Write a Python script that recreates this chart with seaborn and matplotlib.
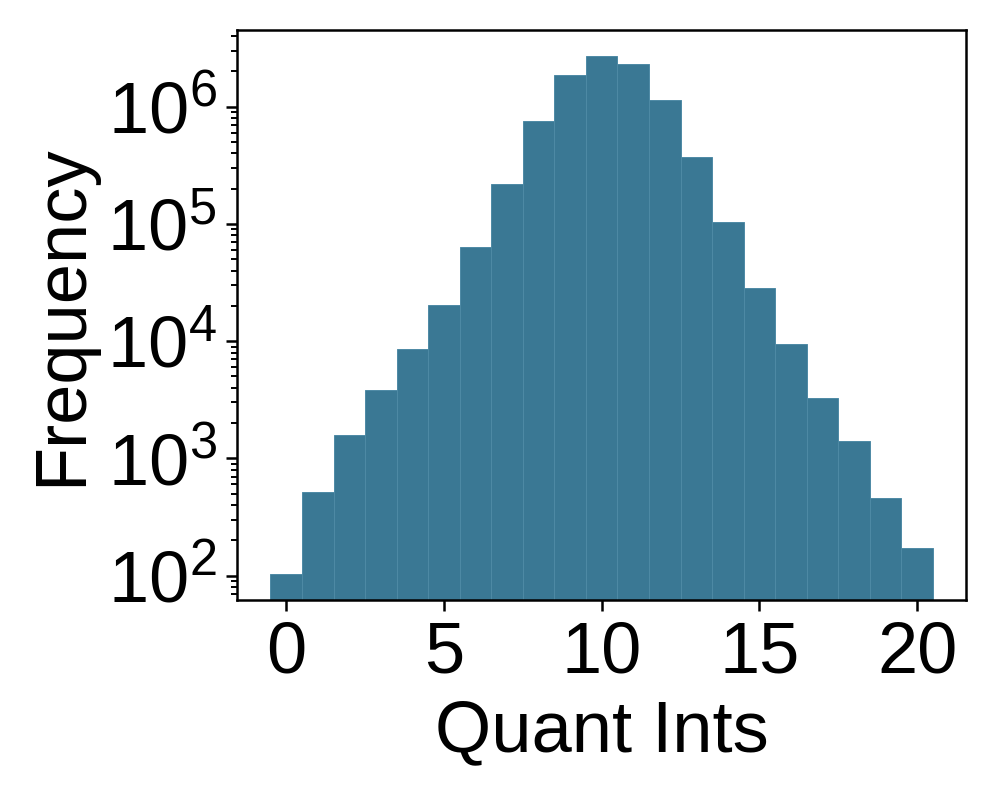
import numpy as np
import pandas as pd
import matplotlib
matplotlib.use("Agg")
import matplotlib.pyplot as plt
import matplotlib.ticker as mticker
import seaborn as sns

# Data (integer bins 0..20, log-scale counts)
quant_ints = list(range(21))
frequency = [103, 521, 1589, 3855, 8610, 20370, 63200, 219800, 758000, 1854000,
             2690000, 2300000, 1133000, 373000, 104700, 28200, 9480, 3280, 1403, 464, 172]
x_ticks = [0, 5, 10, 15, 20]

sns.set_theme(style="ticks")
plt.rcParams["font.family"] = ["Liberation Sans", "DejaVu Sans"]
plt.rcParams["mathtext.fontset"] = "custom"
plt.rcParams["mathtext.rm"] = "Liberation Sans"
plt.rcParams["mathtext.it"] = "Liberation Sans"
plt.rcParams["mathtext.bf"] = "Liberation Sans"
plt.rcParams["text.color"] = "black"
plt.rcParams["axes.labelcolor"] = "black"
plt.rcParams["xtick.color"] = "black"
plt.rcParams["ytick.color"] = "black"

df = pd.DataFrame({"Quant Ints": quant_ints, "Frequency": frequency})

fig = plt.figure(figsize=(4.985, 3.985), dpi=200)
ax = fig.add_axes([0.238, 0.247, 0.731, 0.715])

sns.histplot(data=df, x="Quant Ints", weights="Frequency", discrete=True,
             color="#3a7894", alpha=1.0, edgecolor="#4e8aa5", linewidth=0.35, ax=ax)
ax.set_yscale("log")

lmin, lmax = np.log10(min(frequency)), np.log10(max(frequency))
pad = 0.05 * (lmax - lmin)
ax.set_ylim(10 ** (lmin - pad), 10 ** (lmax + pad))
ax.set_xlim(-0.5 - 0.05 * 21, 20.5 + 0.05 * 21)
ax.set_xticks(x_ticks)
ax.yaxis.set_major_locator(mticker.LogLocator(base=10, numticks=100))
ax.yaxis.set_minor_locator(mticker.LogLocator(base=10, subs=np.arange(2, 10), numticks=100))
ax.yaxis.set_minor_formatter(mticker.NullFormatter())

ax.set_xlabel("Quant Ints", fontsize=26, labelpad=4, color="black")
ax.set_ylabel("Frequency", fontsize=26, labelpad=4, color="black")
ax.tick_params(axis="both", which="major", labelsize=26, length=4, width=0.9,
               color="black", labelcolor="black")
ax.tick_params(axis="y", which="minor", left=True, length=2.2, width=0.7, color="black")
for s in ax.spines.values():
    s.set_linewidth(0.9)
    s.set_color("black")

fig.savefig("out.png", dpi=200)
